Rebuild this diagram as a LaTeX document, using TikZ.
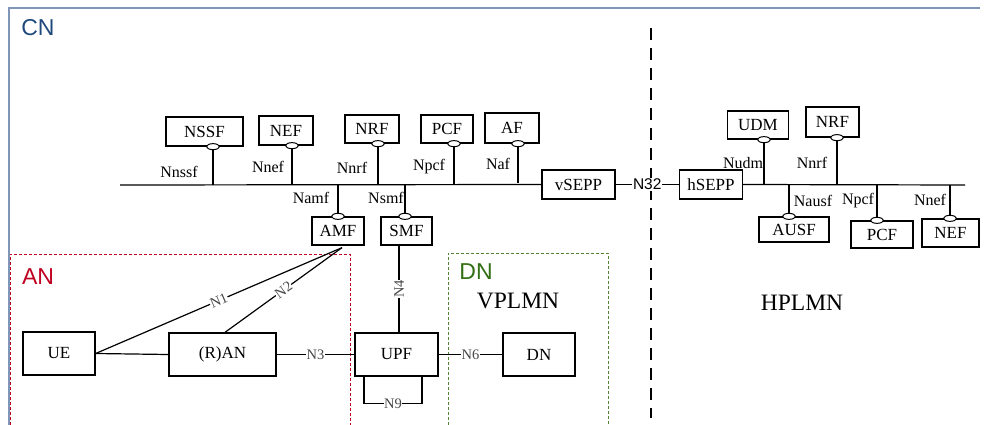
\documentclass[tikz,border=0pt]{standalone}
\usepackage{fontspec}
\setmainfont{Liberation Serif}
\newfontfamily\arialfont{Liberation Sans}
\usetikzlibrary{shapes.geometric,calc}
\definecolor{cnblue}{RGB}{31,73,125}
\definecolor{frameblue}{RGB}{127,150,185}
\definecolor{anred}{RGB}{192,0,32}
\definecolor{dngreen}{RGB}{84,130,53}
\definecolor{dntext}{RGB}{50,110,20}
\definecolor{lblgray}{RGB}{70,70,70}
\begin{document}
\begin{tikzpicture}[x=1pt,y=-1pt,
 nf/.style={draw,line width=1.3pt,inner sep=0pt,font=\fontsize{17}{17}\selectfont},
 pinnode/.style={ellipse,draw,fill=white,line width=1pt,minimum width=13pt,minimum height=6pt,inner sep=0pt},
 lnk/.style={line width=1.2pt},
 ifl/.style={font=\fontsize{16}{16}\selectfont,inner sep=0pt},
 refl/.style={font=\fontsize{14.5}{14.5}\selectfont,text=lblgray,fill=white,inner sep=0.5pt},
 bigl/.style={font=\fontsize{23.5}{23.5}\selectfont,inner sep=0pt},
 areal/.style={font=\arialfont\fontsize{23}{23}\selectfont,inner sep=0pt},
]
\useasboundingbox (0,0) rectangle (985,425);
% CN frame
\coordinate (fbl) at (9,425);
\coordinate (ftl) at (9,8);
\coordinate (ftr) at (980,8);
\draw[frameblue,line width=1.5pt] (fbl) -- (ftl) -- (ftr);
\node[areal,text=cnblue] (cnl) at (38,28) {CN};
% AN area
\coordinate (an1) at (10,425);
\coordinate (an2) at (10,254);
\coordinate (an3) at (350,254);
\coordinate (an4) at (350,425);
\draw[anred,line width=1pt,dash pattern=on 3pt off 2pt] (an1) -- (an2) -- (an3) -- (an4);
\node[areal,text=anred] (anl) at (38,277) {AN};
% DN area
\coordinate (dn1) at (448,425);
\coordinate (dn2) at (448,253);
\coordinate (dn3) at (608,253);
\coordinate (dn4) at (608,425);
\draw[dngreen,line width=1pt,dash pattern=on 3pt off 2pt] (dn1) -- (dn2) -- (dn3) -- (dn4);
\node[areal,text=dntext] (dnl) at (476,272) {DN};
\node[bigl] (vpl) at (518,301) {VPLMN};
\node[bigl] (hpl) at (802,303) {HPLMN};
% dashed separator
\coordinate (dtop) at (651,28);
\coordinate (dbot) at (651,418);
\draw[black,line width=1.5pt,dash pattern=on 12pt off 8pt] (dtop) -- (dbot);
% bus ends
\coordinate (busL) at (120,185);
\coordinate (busR) at (965,185);
% boxes
\node[nf,minimum width=77pt,minimum height=29pt] (nssf) at (204.5,131.5) {NSSF};
\node[nf,minimum width=54pt,minimum height=29pt] (nef) at (286,130.5) {NEF};
\node[nf,minimum width=54pt,minimum height=28pt] (nrf) at (372,129) {NRF};
\node[nf,minimum width=52pt,minimum height=28pt] (pcf) at (447,129) {PCF};
\node[nf,minimum width=54pt,minimum height=30pt] (af) at (512,128) {AF};
\node[nf,minimum width=73pt,minimum height=29pt] (vsepp) at (578.5,184.5) {vSEPP};
\node[nf,minimum width=52pt,minimum height=28pt] (amf) at (338,231) {AMF};
\node[nf,minimum width=51pt,minimum height=28pt] (smf) at (406.5,231) {SMF};
\node[nf,minimum width=63pt,minimum height=29pt] (hsepp) at (711,184.5) {hSEPP};
\node[nf,minimum width=61pt,minimum height=28pt] (udm) at (758,125) {UDM};
\node[nf,minimum width=53pt,minimum height=30pt] (nrfh) at (832.5,122) {NRF};
\node[nf,minimum width=70pt,minimum height=25pt] (ausf) at (794,229.5) {AUSF};
\node[nf,minimum width=62pt,minimum height=27pt] (pcfh) at (882,234.5) {PCF};
\node[nf,minimum width=57pt,minimum height=28pt] (nefh) at (950.5,233) {NEF};
\node[nf,minimum width=72pt,minimum height=43pt] (ue) at (59,353.5) {UE};
\node[nf,minimum width=107pt,minimum height=43pt] (ran) at (222.5,354.5) {(R)AN};
\node[nf,minimum width=83pt,minimum height=43pt] (upf) at (396.5,354.5) {UPF};
\node[nf,minimum width=72pt,minimum height=43pt] (dn) at (539,354.5) {DN};
% bus
\draw[lnk] (busL) -- (vsepp.west);
\draw[lnk] (hsepp.east) -- (busR);
% service interfaces above the bus
\node[pinnode] (pnssf) at (213,0 |- nssf.south) {};
\node[pinnode] (pnef) at (292,0 |- nef.south) {};
\node[pinnode] (pnrf) at (378,0 |- nrf.south) {};
\node[pinnode] (ppcf) at (454,0 |- pcf.south) {};
\node[pinnode] (paf) at (518,0 |- af.south) {};
\node[pinnode] (pudm) at (764,0 |- udm.south) {};
\node[pinnode] (pnrfh) at (837,0 |- nrfh.south) {};
\draw[lnk] (pnssf.south) -- (pnssf |- busL);
\draw[lnk] (pnef.south) -- (pnef |- busL);
\draw[lnk] (pnrf.south) -- (pnrf |- busL);
\draw[lnk] (ppcf.south) -- (ppcf |- busL);
\coordinate (afend) at ($(paf |- busL)+(0,-2)$);
\draw[lnk] (paf.south) -- (afend);
\draw[lnk] (pudm.south) -- (pudm |- busR);
\draw[lnk] (pnrfh.south) -- (pnrfh |- busR);
% service interfaces below the bus
\node[pinnode] (pamf) at (338,0 |- amf.north) {};
\node[pinnode] (psmf) at (405,0 |- smf.north) {};
\node[pinnode] (pausf) at (789,0 |- ausf.north) {};
\node[pinnode] (ppcfh) at (877,0 |- pcfh.north) {};
\node[pinnode] (pnefh) at (950,0 |- nefh.north) {};
\draw[lnk] (pamf.north) -- (pamf |- busL);
\draw[lnk] (psmf.north) -- (psmf |- busL);
\draw[lnk] (pausf.north) -- (pausf |- busR);
\draw[lnk] (ppcfh.north) -- (ppcfh |- busR);
\draw[lnk] (pnefh.north) -- (pnefh |- busR);
% interface labels
\node[ifl] (lnssf) at (179,172) {Nnssf};
\node[ifl] (lnef) at (268,167) {Nnef};
\node[ifl] (lnrf) at (352,168) {Nnrf};
\node[ifl] (lpcf) at (429,167) {Npcf};
\node[ifl] (laf) at (498,164) {Naf};
\node[ifl] (lamf) at (311,198) {Namf};
\node[ifl] (lsmf) at (386,198) {Nsmf};
\node[ifl] (ludm) at (743,163) {Nudm};
\node[ifl] (lnrfh) at (812,163) {Nnrf};
\node[ifl] (lausf) at (813,201) {Nausf};
\node[ifl] (lpcfh) at (858,201) {Npcf};
\node[ifl] (lnefh) at (930,200) {Nnef};
% N32
\draw[lnk] (vsepp.east) -- (hsepp.west) node[midway,fill=white,inner sep=1pt,font=\arialfont\fontsize{15.5}{15.5}\selectfont] (n32) {N32};
% reference points
\coordinate (conv) at ($(amf.south)+(4,2)$);
\draw[lnk] (ue.east) -- (ran.west);
\draw[lnk] (ue.east) -- (conv) node[refl,midway,sloped] (n1) {N1};
\draw[lnk] ($(ran.north)+(2.5,0)$) -- (conv) node[refl,midway,sloped] (n2) {N2};
\draw[lnk] (ran.east) -- (upf.west) node[refl,midway] (n3) {N3};
\draw[lnk] (upf.east) -- (dn.west) node[refl,midway] (n6) {N6};
\coordinate (n4b) at ($(upf.north)+(2.5,0)$);
\draw[lnk] (n4b |- smf.south) -- (n4b) node[refl,pos=0.5,rotate=90] (n4) {N4};
\coordinate (n9a) at ($(upf.south)+(-32.5,0)$);
\coordinate (n9d) at ($(upf.south)+(25.5,0)$);
\coordinate (n9b) at ($(n9a)+(0,27)$);
\coordinate (n9c) at ($(n9d)+(0,27)$);
\draw[lnk] (n9a) -- (n9b) -- (n9c) node[refl,midway] (n9) {N9} -- (n9d);
\end{tikzpicture}
\end{document}
